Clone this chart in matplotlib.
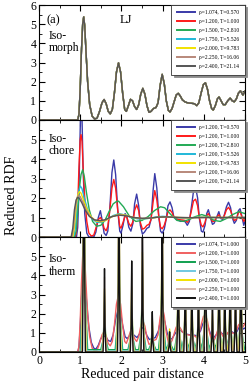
import matplotlib
matplotlib.use("Agg")
import matplotlib.pyplot as plt
import numpy as np

plt.rcParams['font.family'] = ['Liberation Serif', 'DejaVu Serif']

# ---------------- data ----------------
# Panel (a) isomorph: all seven state points collapse onto one curve (reduced units)
ISOMORPH_R = [0.00, 0.94, 0.97, 1.00, 1.03, 1.06, 1.085, 1.11, 1.14, 1.18, 1.23, 1.29, 1.35, 1.41, 1.47,
              1.53, 1.58, 1.63, 1.68, 1.73, 1.78, 1.83, 1.88, 1.93, 1.98, 2.03, 2.08, 2.12, 2.17, 2.22,
              2.27, 2.32, 2.37, 2.42, 2.47, 2.52, 2.57, 2.62, 2.67, 2.72, 2.78, 2.84, 2.89, 2.94, 2.99,
              3.04, 3.09, 3.14, 3.18, 3.23, 3.28, 3.33, 3.38, 3.43, 3.48, 3.54, 3.60, 3.66, 3.71, 3.77,
              3.83, 3.88, 3.94, 3.99, 4.04, 4.09, 4.14, 4.19, 4.23, 4.28, 4.33, 4.37, 4.42, 4.47, 4.52,
              4.58, 4.64, 4.69, 4.74, 4.79, 4.84, 4.89, 4.95, 5.00]
ISOMORPH_G = [0.00, 0.00, 0.30, 1.60, 3.60, 5.00, 5.38, 4.90, 3.60, 2.00, 0.80, 0.20, 0.05, 0.10, 0.45,
              0.90, 1.07, 0.85, 0.45, 0.32, 0.55, 1.40, 2.50, 2.98, 2.50, 1.40, 0.55, 0.45, 0.75, 1.08,
              1.00, 0.70, 0.55, 0.80, 1.35, 1.65, 1.35, 0.75, 0.40, 0.45, 0.60, 0.65, 0.90, 1.80, 2.38,
              1.90, 1.00, 0.50, 0.42, 0.60, 0.95, 1.30, 1.39, 1.25, 1.05, 0.95, 0.90, 0.88, 0.87, 0.85,
              0.75, 0.90, 1.45, 1.85, 1.94, 1.60, 1.00, 0.60, 0.52, 0.75, 1.10, 1.20, 1.00, 0.80, 0.80,
              1.00, 1.14, 1.00, 0.95, 1.10, 1.40, 1.52, 1.30, 1.50]
ISOMORPH_LABELS = ['ρ=1.074, T=0.570', 'ρ=1.200, T=1.000', 'ρ=1.500, T=2.810',
                   'ρ=1.750, T=5.526', 'ρ=2.000, T=9.783', 'ρ=2.250, T=16.06',
                   'ρ=2.400, T=21.14']

# Panel isochore (rho = 1.200), LJ units
ISOCHORE_LABELS = ['ρ=1.200, T=0.570', 'ρ=1.200, T=1.000', 'ρ=1.200, T=2.810',
                   'ρ=1.200, T=5.526', 'ρ=1.200, T=9.783', 'ρ=1.200, T=16.06',
                   'ρ=1.200, T=21.14']
CRYS_R = [0.00, 0.88, 0.91, 0.94, 0.97, 1.00, 1.02, 1.045, 1.07, 1.11, 1.16, 1.21, 1.27, 1.33, 1.38,
          1.44, 1.49, 1.53, 1.58, 1.63, 1.67, 1.72, 1.77, 1.815, 1.86, 1.91, 1.96, 1.99, 2.04, 2.09,
          2.135, 2.18, 2.23, 2.28, 2.32, 2.37, 2.42, 2.46, 2.51, 2.56, 2.62, 2.67, 2.72, 2.77, 2.81,
          2.86, 2.91, 2.95, 2.99, 3.04, 3.09, 3.13, 3.18, 3.23, 3.27, 3.33, 3.39, 3.44, 3.49, 3.55,
          3.60, 3.65, 3.71, 3.75, 3.80, 3.85, 3.89, 3.94, 3.98, 4.03, 4.07, 4.11, 4.16, 4.21, 4.25,
          4.31, 4.365, 4.41, 4.46, 4.50, 4.55, 4.60, 4.65, 4.69, 4.74, 4.79, 4.84, 4.88, 4.93, 4.97, 5.00]
ISOCHORE_T1_G = [0.00, 0.00, 0.30, 1.60, 3.60, 5.00, 5.25, 4.90, 3.60, 2.00, 0.80, 0.20, 0.05, 0.10, 0.45,
                 0.90, 1.00, 0.85, 0.45, 0.32, 0.55, 1.40, 2.50, 2.95, 2.50, 1.40, 0.55, 0.45, 0.75, 1.08,
                 1.00, 0.70, 0.55, 0.80, 1.35, 1.65, 1.35, 0.75, 0.40, 0.45, 0.60, 0.65, 0.90, 1.80, 2.38,
                 1.90, 1.00, 0.50, 0.42, 0.60, 0.95, 1.30, 1.39, 1.25, 1.05, 0.95, 0.90, 0.88, 0.87, 0.85,
                 0.75, 0.90, 1.45, 1.85, 1.94, 1.60, 1.00, 0.60, 0.52, 0.75, 1.10, 1.20, 1.00, 0.80, 0.80,
                 1.00, 1.14, 1.00, 0.95, 1.10, 1.40, 1.52, 1.35, 1.10, 0.85, 0.90, 1.25, 1.30, 1.00, 0.80, 0.90]
ISOCHORE_T057_G = [0.00, 0.00, 0.00, 0.50, 2.50, 5.50, 7.30, 6.00, 3.50, 1.20, 0.20, 0.00, 0.00, 0.00, 0.25,
                   1.00, 1.35, 0.90, 0.20, 0.08, 0.30, 1.50, 3.30, 3.95, 3.20, 1.40, 0.30, 0.20, 0.60, 1.20,
                   1.00, 0.50, 0.30, 0.70, 1.70, 2.20, 1.60, 0.60, 0.15, 0.25, 0.45, 0.50, 0.90, 2.40, 3.25,
                   2.50, 1.00, 0.30, 0.20, 0.40, 0.95, 1.60, 1.80, 1.50, 1.05, 0.90, 0.85, 0.80, 0.82, 0.78,
                   0.60, 0.80, 1.70, 2.35, 2.55, 2.00, 1.00, 0.30, 0.25, 0.60, 1.20, 1.40, 1.00, 0.65, 0.70,
                   1.00, 1.30, 0.95, 0.90, 1.15, 1.55, 1.78, 1.50, 1.00, 0.70, 0.85, 1.35, 1.45, 1.00, 0.60, 0.80]
ISOCHORE_T281_R = [0.00, 0.86, 0.90, 0.94, 0.98, 1.02, 1.06, 1.10, 1.15, 1.22, 1.30, 1.40, 1.50, 1.60, 1.70,
                   1.80, 1.88, 1.93, 2.05, 2.20, 2.35, 2.50, 2.65, 2.80, 2.95, 3.05, 3.20, 3.35, 3.50, 3.65,
                   3.80, 3.95, 4.10, 4.25, 4.40, 4.55, 4.70, 4.85, 5.00]
ISOCHORE_T281_G = [0.00, 0.00, 0.30, 1.30, 2.50, 3.20, 3.45, 3.10, 2.30, 1.40, 0.80, 0.55, 0.60, 0.85, 1.30,
                   1.70, 1.82, 1.84, 1.55, 1.05, 0.80, 0.85, 1.05, 1.35, 1.55, 1.50, 1.15, 0.85, 0.80, 0.90,
                   1.05, 1.15, 1.05, 0.85, 0.80, 0.95, 1.15, 1.30, 1.20]
ISOCHORE_T5526_R = [0.00, 0.84, 0.88, 0.92, 0.96, 1.00, 1.04, 1.10, 1.18, 1.28, 1.40, 1.52, 1.65, 1.80, 1.95,
                    2.10, 2.25, 2.40, 2.55, 2.70, 2.85, 3.00, 3.15, 3.30, 3.50, 3.70, 3.90, 4.10, 4.40, 4.70, 5.00]
ISOCHORE_T5526_G = [0.00, 0.00, 0.40, 1.50, 2.30, 2.62, 2.50, 2.00, 1.40, 0.95, 0.75, 0.75, 0.90, 1.10, 1.20,
                    1.12, 1.00, 0.93, 0.92, 0.97, 1.03, 1.06, 1.04, 1.00, 0.97, 0.99, 1.02, 1.01, 0.99, 1.00, 1.00]
ISOCHORE_T9783_R = [0.00, 0.82, 0.86, 0.90, 0.94, 0.98, 1.02, 1.08, 1.16, 1.26, 1.38, 1.50, 1.62, 1.78, 1.95,
                    2.10, 2.30, 2.50, 2.70, 2.90, 3.10, 3.30, 3.60, 3.90, 4.30, 5.00]
ISOCHORE_T9783_G = [0.00, 0.00, 0.50, 1.50, 2.15, 2.33, 2.25, 1.90, 1.45, 1.05, 0.82, 0.78, 0.85, 1.05, 1.17,
                    1.12, 1.00, 0.94, 0.96, 1.02, 1.04, 1.01, 0.98, 1.01, 1.00, 1.00]
ISOCHORE_T1606_R = [0.00, 0.80, 0.84, 0.88, 0.92, 0.96, 1.00, 1.06, 1.14, 1.24, 1.36, 1.50, 1.62, 1.78, 1.95,
                    2.10, 2.30, 2.50, 2.70, 2.90, 3.10, 3.40, 3.70, 4.10, 5.00]
ISOCHORE_T1606_G = [0.00, 0.00, 0.50, 1.45, 2.00, 2.15, 2.08, 1.80, 1.40, 1.05, 0.86, 0.82, 0.88, 1.05, 1.14,
                    1.10, 1.00, 0.95, 0.97, 1.02, 1.03, 1.00, 0.99, 1.00, 1.00]
ISOCHORE_T2114_R = [0.00, 0.78, 0.82, 0.86, 0.90, 0.94, 0.98, 1.04, 1.12, 1.22, 1.34, 1.48, 1.60, 1.76, 1.93,
                    2.10, 2.30, 2.50, 2.70, 2.90, 3.10, 3.40, 3.70, 4.10, 5.00]
ISOCHORE_T2114_G = [0.00, 0.00, 0.45, 1.40, 1.90, 2.03, 1.98, 1.75, 1.38, 1.06, 0.88, 0.84, 0.88, 1.04, 1.12,
                    1.09, 1.00, 0.96, 0.97, 1.02, 1.03, 1.00, 0.99, 1.00, 1.00]

# Panel isotherm (T = 1.000), reduced units
ISOTHERM_LABELS = ['ρ=1.074, T=1.000', 'ρ=1.200, T=1.000', 'ρ=1.500, T=1.000',
                   'ρ=1.750, T=1.000', 'ρ=2.000, T=1.000', 'ρ=2.250, T=1.000',
                   'ρ=2.400, T=1.000']
ISOTHERM_1074_R = [0.00, 0.94, 0.97, 1.00, 1.03, 1.06, 1.09, 1.12, 1.16, 1.21, 1.27, 1.33, 1.38, 1.44, 1.50,
                   1.56, 1.62, 1.68, 1.74, 1.80, 1.86, 1.92, 1.97, 2.03, 2.09, 2.14, 2.20, 2.26, 2.32, 2.38,
                   2.44, 2.50, 2.56, 2.62, 2.68, 2.75, 2.82, 2.90, 2.96, 3.00, 3.05, 3.11, 3.17, 3.23, 3.30,
                   3.38, 3.45, 3.54, 3.65, 3.75, 3.84, 3.92, 3.98, 4.04, 4.10, 4.17, 4.23, 4.30, 4.37, 4.45,
                   4.52, 4.60, 4.65, 4.72, 4.80, 4.86, 4.90, 4.96, 5.00]
ISOTHERM_1074_G = [0.00, 0.00, 0.25, 1.30, 2.80, 3.75, 3.90, 3.50, 2.50, 1.30, 0.50, 0.20, 0.15, 0.35, 0.70,
                   0.85, 0.80, 0.60, 0.55, 0.90, 1.70, 2.20, 2.10, 1.40, 0.80, 0.70, 0.85, 0.97, 0.85, 0.75,
                   0.95, 1.28, 1.20, 0.85, 0.65, 0.70, 0.75, 1.10, 1.80, 1.93, 1.60, 1.00, 0.65, 0.70, 0.95,
                   1.20, 1.10, 0.95, 0.90, 0.88, 0.85, 1.10, 1.50, 1.65, 1.35, 0.90, 0.72, 0.90, 1.12, 0.95,
                   0.88, 1.00, 1.10, 1.00, 1.05, 1.30, 1.38, 1.20, 1.25]
# sharp crystalline peaks for the denser state points: shell positions and peak heights
SHELL_R = [1.09, 1.59, 1.94, 2.25, 2.51, 2.75, 2.99, 3.17, 3.38, 3.55, 3.71, 3.87, 4.04, 4.21, 4.37, 4.51,
           4.64, 4.77, 4.90]
PEAK_1500 = [9.0, 1.7, 5.0, 1.9, 2.9, 1.0, 4.0, 0.9, 2.6, 1.8, 1.6, 1.6, 3.2, 1.2, 2.2, 1.6, 2.0, 1.5, 2.5]
PEAK_1750 = [12., 2.6, 7.0, 2.7, 4.0, 1.4, 5.5, 1.1, 3.6, 2.6, 2.3, 2.3, 4.5, 1.6, 3.0, 2.3, 2.8, 2.2, 3.5]
PEAK_2000 = [15., 3.3, 9.0, 3.4, 5.2, 1.7, 7.0, 1.2, 4.8, 3.5, 3.0, 3.0, 6.0, 2.0, 4.0, 3.0, 3.7, 2.8, 4.6]
PEAK_2250 = [18., 3.9, 11., 4.1, 6.3, 1.9, 8.5, 1.0, 6.0, 4.4, 3.8, 3.8, 7.5, 2.4, 5.0, 3.8, 4.8, 3.5, 5.8]
PEAK_2400 = [20., 4.35, 12., 4.75, 7.5, 2.1, 10., 1.05, 7.0, 5.5, 4.5, 4.5, 9.0, 2.8, 6.5, 4.6, 6.0, 4.2, 7.0]
PEAK_HALFWIDTH = [0.09, 0.07, 0.055, 0.045, 0.035]
PEAK_FLOOR = [0.12, 0.05, 0.02, 0.0, 0.0]

COLORS = ['#3a3aa8', '#ff1a1a', '#22aa55', '#20b8d8', '#f2e200', '#b8887a', '#555555']
COLORS_T = ['#3a3aa8', '#f06060', '#10a050', '#70c8e0', '#f2e200', '#d8b8ae', '#111111']


def spike_curve(pos, heights, hw, floor):
    xs, ys = [0.0], [0.0]
    for i, (p, h) in enumerate(zip(pos, heights)):
        f0 = 0.0 if i == 0 else floor
        xs += [p - hw, p - 0.4 * hw, p, p + 0.4 * hw, p + hw]
        ys += [f0, f0 + 0.3 * (h - f0), h, floor + 0.3 * (h - floor), floor]
    xs.append(5.0)
    ys.append(floor)
    return xs, ys


# ---------------- figure ----------------
fig = plt.figure(figsize=(2.49, 3.84), dpi=100)
L, R = 39 / 249, 245 / 249
b3, t3 = (384 - 352) / 384, (384 - 237) / 384
b2, t2 = t3, (384 - 120) / 384
b1, t1 = t2, (384 - 5) / 384
ax1 = fig.add_axes([L, b1, R - L, t1 - b1])
ax2 = fig.add_axes([L, b2, R - L, t2 - b2])
ax3 = fig.add_axes([L, b3, R - L, t3 - b3])

for ax in (ax1, ax2, ax3):
    ax.set_xlim(0, 5)
    ax.set_ylim(0, 6)
    ax.set_xticks([0, 1, 2, 3, 4, 5])
    ax.set_xticks([0.5, 1.5, 2.5, 3.5, 4.5], minor=True)
    ax.set_yticks([0, 1, 2, 3, 4, 5, 6])
    ax.set_yticks([0.5, 1.5, 2.5, 3.5, 4.5, 5.5], minor=True)
    ax.tick_params(which='both', direction='in', top=True, right=True, labelsize=8.5, pad=2)
    ax.tick_params(which='major', length=4, width=0.8)
    ax.tick_params(which='minor', length=2, width=0.6)
    for s in ax.spines.values():
        s.set_linewidth(0.8)

ax1.set_xticklabels([])
ax2.set_xticklabels([])
ax2.set_yticklabels(['0', '1', '2', '3', '4', '5', ''])
ax3.set_yticklabels(['0', '1', '2', '3', '4', '5', ''])

# panel 1
for c, lab in zip(COLORS, ISOMORPH_LABELS):
    ax1.plot(ISOMORPH_R, ISOMORPH_G, color=c, lw=1.0, label=lab)

# panel 2
iso_r = [CRYS_R, CRYS_R, ISOCHORE_T281_R, ISOCHORE_T5526_R, ISOCHORE_T9783_R, ISOCHORE_T1606_R, ISOCHORE_T2114_R]
iso_g = [ISOCHORE_T057_G, ISOCHORE_T1_G, ISOCHORE_T281_G, ISOCHORE_T5526_G, ISOCHORE_T9783_G,
         ISOCHORE_T1606_G, ISOCHORE_T2114_G]
for xr, yg, c, lab in zip(iso_r, iso_g, COLORS, ISOCHORE_LABELS):
    ax2.plot(xr, yg, color=c, lw=1.0, label=lab)

# panel 3
ax3.plot(ISOTHERM_1074_R, ISOTHERM_1074_G, color=COLORS_T[0], lw=1.0, label=ISOTHERM_LABELS[0])
ax3.plot(ISOMORPH_R, ISOMORPH_G, color=COLORS_T[1], lw=1.0, label=ISOTHERM_LABELS[1])
for k, hts in enumerate([PEAK_1500, PEAK_1750, PEAK_2000, PEAK_2250, PEAK_2400]):
    xs, ys = spike_curve(SHELL_R, hts, PEAK_HALFWIDTH[k], PEAK_FLOOR[k])
    ax3.plot(xs, ys, color=COLORS_T[k + 2], lw=1.0, label=ISOTHERM_LABELS[k + 2])

for ax in (ax1, ax2, ax3):
    leg = ax.legend(loc='upper right', fontsize=4.0, frameon=True, fancybox=False,
                    shadow={'ox': 1.5, 'oy': -1.5, 'color': '0.55', 'alpha': 1.0},
                    borderaxespad=0.0, labelspacing=0.72, handlelength=3.3, handletextpad=0.8,
                    borderpad=0.95, framealpha=1)
    leg.get_frame().set_edgecolor('#333333')
    leg.get_frame().set_linewidth(0.6)
    for ln in leg.get_lines():
        ln.set_linewidth(1.4)

ax1.text(0.18, 5.05, '(a)', fontsize=9)
ax1.text(1.95, 5.05, 'LJ', fontsize=9)
ax1.text(0.24, 4.7, 'Iso-\nmorph', fontsize=8.5, va='top', linespacing=1.05)
ax2.text(0.24, 5.35, 'Iso-\nchore', fontsize=8.5, va='top', linespacing=1.05)
ax3.text(0.24, 5.15, 'Iso-\ntherm', fontsize=8.5, va='top', linespacing=1.05)

fig.text(0.045, 0.49, 'Reduced RDF', rotation=90, ha='center', va='center', fontsize=10)
ax3.set_xlabel('Reduced pair distance', fontsize=10, labelpad=1)

fig.savefig('out.png', dpi=100)
